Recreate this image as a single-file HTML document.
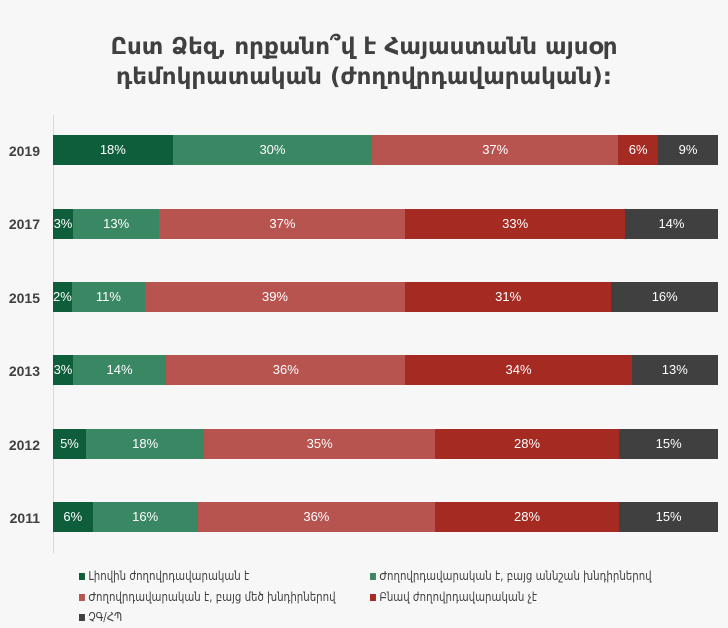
<!DOCTYPE html>
<html><head><meta charset="utf-8"><style>
body{margin:0;width:728px;height:628px;background:#f7f7f7;font-family:"Liberation Sans","DejaVu Sans",sans-serif;position:relative;overflow:hidden}
.t{position:absolute;left:0;width:728px;top:32px;text-align:center;font-size:23px;font-weight:bold;color:#404040;line-height:30px;font-family:"DejaVu Sans",sans-serif}
.ax{position:absolute;left:53px;top:115px;width:1px;height:438px;background:#d9d9d9}
.row{position:absolute;left:53px;width:665px;height:30px;display:flex}
.row div{height:30px;line-height:30px;text-align:center;color:#fff;font-size:13px;overflow:visible;white-space:nowrap}
.y{position:absolute;left:0;width:40px;text-align:right;font-size:14px;font-weight:bold;color:#404040}
.a{background:#0f5e3b}.b{background:#3a8763}.c{background:#b85450}.d{background:#a52a22}.e{background:#404040}
.lg{position:absolute;font-size:12px;color:#404040;font-family:"DejaVu Sans",sans-serif;transform:scaleX(.85);transform-origin:left}
.lg i{display:inline-block;width:7px;height:7px;margin-right:4px}
</style></head><body>
<div class="t">Ըստ Ձեզ, որքանո՞վ է Հայաստանն այսօր<br>դեմոկրատական (ժողովրդավարական):</div>
<div class="ax"></div>
<div class="y" style="top:143px">2019</div>
<div class="row" style="top:135px"><div class="a" style="flex:18">18%</div><div class="b" style="flex:30">30%</div><div class="c" style="flex:37">37%</div><div class="d" style="flex:6">6%</div><div class="e" style="flex:9">9%</div></div>
<div class="y" style="top:216px">2017</div>
<div class="row" style="top:209px"><div class="a" style="flex:3">3%</div><div class="b" style="flex:13">13%</div><div class="c" style="flex:37">37%</div><div class="d" style="flex:33">33%</div><div class="e" style="flex:14">14%</div></div>
<div class="y" style="top:290px">2015</div>
<div class="row" style="top:282px"><div class="a" style="flex:2">2%</div><div class="b" style="flex:11">11%</div><div class="c" style="flex:39">39%</div><div class="d" style="flex:31">31%</div><div class="e" style="flex:16">16%</div></div>
<div class="y" style="top:363px">2013</div>
<div class="row" style="top:355px"><div class="a" style="flex:3">3%</div><div class="b" style="flex:14">14%</div><div class="c" style="flex:36">36%</div><div class="d" style="flex:34">34%</div><div class="e" style="flex:13">13%</div></div>
<div class="y" style="top:437px">2012</div>
<div class="row" style="top:429px"><div class="a" style="flex:5">5%</div><div class="b" style="flex:18">18%</div><div class="c" style="flex:35">35%</div><div class="d" style="flex:28">28%</div><div class="e" style="flex:15">15%</div></div>
<div class="y" style="top:510px">2011</div>
<div class="row" style="top:502px"><div class="a" style="flex:6">6%</div><div class="b" style="flex:16">16%</div><div class="c" style="flex:36">36%</div><div class="d" style="flex:28">28%</div><div class="e" style="flex:15">15%</div></div>
<div class="lg" style="left:79px;top:569px"><i class="a"></i>Լիովին ժողովրդավարական է</div>
<div class="lg" style="left:370px;top:569px"><i class="b"></i>Ժողովրդավարական է, բայց աննշան խնդիրներով</div>
<div class="lg" style="left:79px;top:590px"><i class="c"></i>Ժողովրդավարական է, բայց մեծ խնդիրներով</div>
<div class="lg" style="left:370px;top:590px"><i class="d"></i>Բնավ ժողովրդավարական չէ</div>
<div class="lg" style="left:79px;top:610px"><i class="e"></i>ՉԳ/ՀՊ</div>
</body></html>
